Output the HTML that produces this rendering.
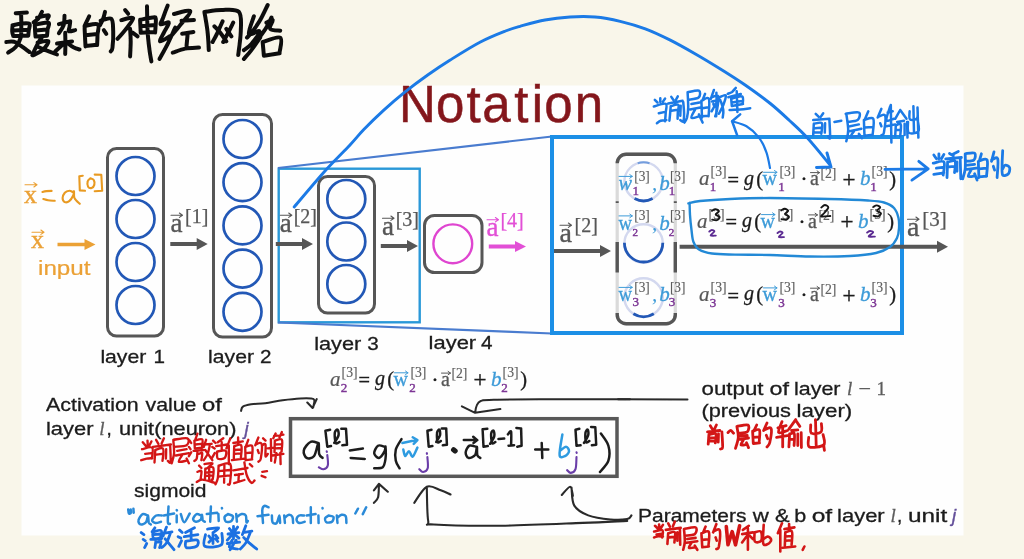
<!DOCTYPE html>
<html>
<head>
<meta charset="utf-8">
<title>Notation</title>
<style>
html,body{margin:0;padding:0;background:#f9f6ea;}
body{width:1024px;height:559px;overflow:hidden;position:relative;font-family:"Liberation Sans",sans-serif;}
svg{position:absolute;left:0;top:0;display:block;}
.sans{font-family:"Liberation Sans",sans-serif;}
.serif{font-family:"Liberation Serif",serif;}
.box{fill:none;stroke:#565656;stroke-width:3;}
.cb{fill:none;stroke:#2358b6;stroke-width:2.7;}
.hw{fill:none;stroke-linecap:round;stroke-linejoin:round;}
</style>
</head>
<body>
<svg width="1024" height="559" viewBox="0 0 1024 559">
<defs>
<filter id="soft" x="-5%" y="-5%" width="110%" height="110%"><feGaussianBlur stdDeviation="0.45"/></filter>
</defs>
<rect x="0" y="0" width="1024" height="559" fill="#f9f6ea"/>
<rect x="21.5" y="85.5" width="942" height="450" fill="#fefefe"/>
<g filter="url(#soft)">
<!-- title -->
<text class="sans" x="398.9 436 466.5 482.3 514.3 531.85 544.3 574.8" y="121.6" font-size="51" fill="#84191c" stroke="#84191c" stroke-width="0.5">Notation</text>
<!-- network -->
<rect class="box" x="107.5" y="148.5" width="56" height="187.5" rx="9"/>
<circle class="cb" cx="135.5" cy="176" r="19"/>
<circle class="cb" cx="135.5" cy="219" r="19"/>
<circle class="cb" cx="135.5" cy="262" r="19"/>
<circle class="cb" cx="135.5" cy="305" r="19"/>
<rect class="box" x="213.5" y="114.5" width="58" height="222.5" rx="9"/>
<circle class="cb" cx="242.5" cy="139" r="19"/>
<circle class="cb" cx="242.5" cy="182.2" r="19"/>
<circle class="cb" cx="242.5" cy="225.4" r="19"/>
<circle class="cb" cx="242.5" cy="268.6" r="19"/>
<circle class="cb" cx="242.5" cy="311.8" r="19"/>
<rect class="box" x="318.5" y="176.5" width="56" height="136.5" rx="9"/>
<circle class="cb" cx="346.3" cy="199" r="19"/>
<circle class="cb" cx="346.3" cy="241.5" r="19"/>
<circle class="cb" cx="346.3" cy="284" r="19"/>
<rect class="box" x="424.5" y="215.5" width="57.5" height="57" rx="10"/>
<circle cx="452.8" cy="243.8" r="19.4" fill="none" stroke="#df45d0" stroke-width="2.4"/>
<!-- rects -->
<rect x="278.7" y="168.7" width="141" height="153.6" fill="none" stroke="#2b98d8" stroke-width="2.4"/>
<line x1="278" y1="168" x2="552" y2="136.5" stroke="#4a7bcf" stroke-width="2.1"/>
<line x1="278" y1="322.5" x2="552" y2="333.5" stroke="#4a7bcf" stroke-width="2.1"/>
<rect x="552" y="137" width="350" height="196" fill="none" stroke="#1f8fe6" stroke-width="4"/>
<!-- labels -->
<text class="sans" x="100.4" y="362.5" font-size="19" fill="#1b1b1b" textLength="45.9" lengthAdjust="spacingAndGlyphs" stroke="#1b1b1b" stroke-width="0.3">layer</text>
<text class="sans" x="153.6" y="362.5" font-size="19" fill="#1b1b1b" textLength="11.5" lengthAdjust="spacingAndGlyphs" stroke="#1b1b1b" stroke-width="0.3">1</text>
<text class="sans" x="208.1" y="362.5" font-size="19" fill="#1b1b1b" textLength="45.9" lengthAdjust="spacingAndGlyphs" stroke="#1b1b1b" stroke-width="0.3">layer</text>
<text class="sans" x="260" y="362.5" font-size="19" fill="#1b1b1b" textLength="11.5" lengthAdjust="spacingAndGlyphs" stroke="#1b1b1b" stroke-width="0.3">2</text>
<text class="sans" x="314.2" y="349.5" font-size="19" fill="#1b1b1b" textLength="47.1" lengthAdjust="spacingAndGlyphs" stroke="#1b1b1b" stroke-width="0.3">layer</text>
<text class="sans" x="367.3" y="349.5" font-size="19" fill="#1b1b1b" textLength="11.5" lengthAdjust="spacingAndGlyphs" stroke="#1b1b1b" stroke-width="0.3">3</text>
<text class="sans" x="428.6" y="349" font-size="19" fill="#1b1b1b" textLength="47.6" lengthAdjust="spacingAndGlyphs" stroke="#1b1b1b" stroke-width="0.3">layer</text>
<text class="sans" x="481" y="349" font-size="19" fill="#1b1b1b" textLength="11.5" lengthAdjust="spacingAndGlyphs" stroke="#1b1b1b" stroke-width="0.3">4</text>
<!-- zoomed box -->
<rect x="617.2" y="154.2" width="58.09999999999991" height="169.60000000000002" rx="9" fill="none" stroke="#dadada" stroke-width="3.2"/>
<path d="M617.2 163V163.2a9 9 0 0 1 9 -9H666.3a9 9 0 0 1 9 9V163" fill="none" stroke="#575757" stroke-width="3.4"/>
<path d="M617.2 242V272.5M675.3 242V272.5" fill="none" stroke="#575757" stroke-width="3.4"/>
<path d="M617.2 313V314.8a9 9 0 0 0 9 9H666.3a9 9 0 0 0 9 -9V313" fill="none" stroke="#575757" stroke-width="3.4"/>
<path d="M617.2 201.3v1.6M675.3 201.3v1.6" fill="none" stroke="#575757" stroke-width="3"/>
<circle cx="643.6" cy="181.6" r="19.2" fill="none" stroke="#d3d8ef" stroke-width="2.4"/>
<path d="M652.6 198.6A19.2 19.2 0 0 1 634.6 198.6" fill="none" stroke="#2358b6" stroke-width="2.8"/>
<circle cx="643.6" cy="243.5" r="19.2" fill="none" stroke="#d3d8ef" stroke-width="2.4"/>
<path d="M662.8 242.8A19.2 19.2 0 1 1 624.4 242.8" fill="none" stroke="#2358b6" stroke-width="2.8"/>
<circle cx="643.6" cy="297.5" r="19.2" fill="none" stroke="#d3d8ef" stroke-width="2.4"/>
<path d="M653.8 313.8A19.2 19.2 0 0 1 633.4 313.8" fill="none" stroke="#2358b6" stroke-width="2.8"/>
<path d="M637.7 163.3A19.2 19.2 0 0 1 649.5 163.3" fill="none" stroke="#5b8fd8" stroke-width="2" opacity="0.8"/>
<!-- arrows -->
<path d="M57.5 242.7H84.5V239.0L95.5 244.5L84.5 250.0V246.3H57.5Z" fill="#eba136"/>
<path d="M170.3 242.0H196.7V238.0L207.7 244L196.7 250.0V246.0H170.3Z" fill="#575757"/>
<path d="M275.8 242.0H302V238.0L313 244L302 250.0V246.0H275.8Z" fill="#575757"/>
<path d="M380.8 244.0H407V240.0L418 246L407 252.0V248.0H380.8Z" fill="#575757"/>
<path d="M488.8 244.5H515V241.0L526 246.5L515 252.0V248.5H488.8Z" fill="#e24fd6"/>
<path d="M554 249.0H600V245.0L611 251L600 257.0V253.0H554Z" fill="#575757"/>
<path d="M679.6 244.7H937V240.7L948 246.7L937 252.7V248.7H679.6Z" fill="#575757"/>
<text class="serif" x="170.5" y="231.5" font-size="27" fill="#575757" stroke="#575757" stroke-width="0.35">a</text><text class="serif" x="185" y="222.5" font-size="20" fill="#575757" stroke="#575757" stroke-width="0.25">[1]</text><path d="M171.0 215.2H182.5M179.4 213.0L182.5 215.2L179.4 217.39999999999998" fill="none" stroke="#575757" stroke-width="1.1" stroke-linecap="round" stroke-linejoin="round"/>
<text class="serif" x="279.8" y="231.5" font-size="27" fill="#575757" stroke="#575757" stroke-width="0.35">a</text><text class="serif" x="293.7" y="222.5" font-size="20" fill="#575757" stroke="#575757" stroke-width="0.25">[2]</text><path d="M280.3 215.2H291.8M288.7 213.0L291.8 215.2L288.7 217.39999999999998" fill="none" stroke="#575757" stroke-width="1.1" stroke-linecap="round" stroke-linejoin="round"/>
<text class="serif" x="382" y="234.5" font-size="27" fill="#575757" stroke="#575757" stroke-width="0.35">a</text><text class="serif" x="395.7" y="225.5" font-size="20" fill="#575757" stroke="#575757" stroke-width="0.25">[3]</text><path d="M382.5 218.2H394M390.9 216.0L394 218.2L390.9 220.39999999999998" fill="none" stroke="#575757" stroke-width="1.1" stroke-linecap="round" stroke-linejoin="round"/>
<text class="serif" x="486.5" y="236" font-size="27" fill="#e24fd6" stroke="#e24fd6" stroke-width="0.35">a</text><text class="serif" x="500.4" y="227" font-size="20" fill="#e24fd6" stroke="#e24fd6" stroke-width="0.25">[4]</text><path d="M487.0 219.7H498.5M495.4 217.5L498.5 219.7L495.4 221.89999999999998" fill="none" stroke="#e24fd6" stroke-width="1.1" stroke-linecap="round" stroke-linejoin="round"/>
<text class="serif" x="559.5" y="241.5" font-size="28" fill="#575757" stroke="#575757" stroke-width="0.35">a</text><text class="serif" x="574.5" y="232.0" font-size="20" fill="#575757" stroke="#575757" stroke-width="0.25">[2]</text><path d="M560.0 225.2H571.5M568.4 223.0L571.5 225.2L568.4 227.39999999999998" fill="none" stroke="#575757" stroke-width="1.1" stroke-linecap="round" stroke-linejoin="round"/>
<text class="serif" x="907" y="235.5" font-size="28" fill="#575757" stroke="#575757" stroke-width="0.35">a</text><text class="serif" x="922.3" y="226.0" font-size="21" fill="#575757" stroke="#575757" stroke-width="0.25">[3]</text><path d="M907.5 219.2H919M915.9 217.0L919 219.2L915.9 221.39999999999998" fill="none" stroke="#575757" stroke-width="1.1" stroke-linecap="round" stroke-linejoin="round"/>
<text class="serif" x="24" y="202.6" font-size="26" fill="#eba136" stroke="#eba136" stroke-width="0.4">x</text><path d="M25 184.8H37M33.9 182.60000000000002L37 184.8L33.9 187.0" fill="none" stroke="#eba136" stroke-width="1.1" stroke-linecap="round" stroke-linejoin="round"/>
<text class="serif" x="31" y="248" font-size="26" fill="#eba136" stroke="#eba136" stroke-width="0.4">x</text><path d="M32 232.2H44M40.9 230.0L44 232.2L40.9 234.39999999999998" fill="none" stroke="#eba136" stroke-width="1.1" stroke-linecap="round" stroke-linejoin="round"/>
<text class="sans" x="38" y="275" font-size="19.5" fill="#eba136" textLength="52.5" lengthAdjust="spacingAndGlyphs" stroke="#eba136" stroke-width="0.2">input</text>
<!-- equations -->
<text class="serif" x="618.5" y="190" font-size="21" fill="#3d9bd8" font-style="italic" textLength="13.5" lengthAdjust="spacingAndGlyphs" stroke="#3d9bd8" stroke-width="0.3">w</text>
<path d="M619 176.4H632.3M629.8 174.6L632.3 176.4L629.8 178.20000000000002" fill="none" stroke="#3d9bd8" stroke-width="1.0" stroke-linecap="round" stroke-linejoin="round"/>
<text class="serif" x="632.6" y="195.3" font-size="13" fill="#7d3795" stroke="#7d3795" stroke-width="0.45">1</text>
<text class="serif" x="634.2" y="180.5" font-size="14.5" fill="#5e5e5e" textLength="15.6" lengthAdjust="spacingAndGlyphs" stroke="#5e5e5e" stroke-width="0.15">[3]</text>
<text class="serif" x="652" y="190" font-size="21" fill="#3d9bd8" font-style="italic">,</text>
<text class="serif" x="659.3" y="190" font-size="21" fill="#3d9bd8" font-style="italic" stroke="#3d9bd8" stroke-width="0.3">b</text>
<text class="serif" x="668.8" y="195.3" font-size="13" fill="#7d3795" stroke="#7d3795" stroke-width="0.45">1</text>
<text class="serif" x="669.9" y="180.5" font-size="14.5" fill="#5e5e5e" textLength="15.6" lengthAdjust="spacingAndGlyphs" stroke="#5e5e5e" stroke-width="0.15">[3]</text>
<text class="serif" x="618.5" y="229.5" font-size="20" fill="#3d9bd8" textLength="13.5" lengthAdjust="spacingAndGlyphs" stroke="#3d9bd8" stroke-width="0.3">w</text>
<path d="M619 215.9H632.3M629.8 214.1L632.3 215.9L629.8 217.70000000000002" fill="none" stroke="#3d9bd8" stroke-width="1.0" stroke-linecap="round" stroke-linejoin="round"/>
<text class="serif" x="632.6" y="235.5" font-size="11" fill="#7d3795" stroke="#7d3795" stroke-width="0.5">2</text>
<text class="serif" x="634.2" y="220.0" font-size="14.5" fill="#5e5e5e" textLength="15.6" lengthAdjust="spacingAndGlyphs" stroke="#5e5e5e" stroke-width="0.15">[3]</text>
<text class="serif" x="652" y="229.5" font-size="21" fill="#3d9bd8" font-style="italic">,</text>
<text class="serif" x="659.3" y="229.5" font-size="21" fill="#3d9bd8" font-style="italic" stroke="#3d9bd8" stroke-width="0.3">b</text>
<text class="serif" x="668.8" y="235.5" font-size="11" fill="#7d3795" stroke="#7d3795" stroke-width="0.5">2</text>
<text class="serif" x="669.9" y="220.0" font-size="14.5" fill="#5e5e5e" textLength="15.6" lengthAdjust="spacingAndGlyphs" stroke="#5e5e5e" stroke-width="0.15">[3]</text>
<text class="serif" x="618.5" y="301" font-size="21" fill="#3d9bd8" textLength="13.5" lengthAdjust="spacingAndGlyphs" stroke="#3d9bd8" stroke-width="0.3">w</text>
<path d="M619 287.4H632.3M629.8 285.59999999999997L632.3 287.4L629.8 289.2" fill="none" stroke="#3d9bd8" stroke-width="1.0" stroke-linecap="round" stroke-linejoin="round"/>
<text class="serif" x="632.6" y="306.3" font-size="13" fill="#7d3795" stroke="#7d3795" stroke-width="0.45">3</text>
<text class="serif" x="634.2" y="291.5" font-size="14.5" fill="#5e5e5e" textLength="15.6" lengthAdjust="spacingAndGlyphs" stroke="#5e5e5e" stroke-width="0.15">[3]</text>
<text class="serif" x="652" y="301" font-size="21" fill="#3d9bd8" font-style="italic">,</text>
<text class="serif" x="659.3" y="301" font-size="21" fill="#3d9bd8" font-style="italic" stroke="#3d9bd8" stroke-width="0.3">b</text>
<text class="serif" x="668.8" y="306.3" font-size="13" fill="#7d3795" stroke="#7d3795" stroke-width="0.45">3</text>
<text class="serif" x="669.9" y="291.5" font-size="14.5" fill="#5e5e5e" textLength="15.6" lengthAdjust="spacingAndGlyphs" stroke="#5e5e5e" stroke-width="0.15">[3]</text>
<text class="serif" x="699" y="185.3" font-size="21" fill="#575757" font-style="italic" stroke="#575757" stroke-width="0.2">a</text>
<text class="serif" x="709.8" y="191.0" font-size="13" fill="#7d3795" stroke="#7d3795" stroke-width="0.45">1</text>
<text class="serif" x="710.6" y="176.3" font-size="14.5" fill="#5e5e5e" textLength="16" lengthAdjust="spacingAndGlyphs" stroke="#5e5e5e" stroke-width="0.15">[3]</text>
<text class="serif" x="727.5" y="186.9" font-size="21" fill="#1b1b1b" textLength="11.5" lengthAdjust="spacingAndGlyphs" stroke="#1b1b1b" stroke-width="0.4">=</text>
<text class="serif" x="744" y="184.8" font-size="20" fill="#1b1b1b" font-style="italic" stroke="#1b1b1b" stroke-width="0.3">g</text>
<text class="serif" x="756.3" y="185.60000000000002" font-size="20.5" fill="#1b1b1b" stroke="#1b1b1b" stroke-width="0.3">(</text>
<text class="serif" x="762.6" y="185.3" font-size="20" fill="#3d9bd8" stroke="#3d9bd8" stroke-width="0.3">w</text>
<path d="M763.5 172.3H777M774.5 170.5L777 172.3L774.5 174.10000000000002" fill="none" stroke="#3d9bd8" stroke-width="1.0" stroke-linecap="round" stroke-linejoin="round"/>
<text class="serif" x="778.2" y="191.0" font-size="13" fill="#7d3795" stroke="#7d3795" stroke-width="0.45">1</text>
<text class="serif" x="779.4" y="176.3" font-size="14.5" fill="#5e5e5e" textLength="16" lengthAdjust="spacingAndGlyphs" stroke="#5e5e5e" stroke-width="0.15">[3]</text>
<text class="serif" x="800.5" y="186.3" font-size="21" fill="#1b1b1b" stroke="#1b1b1b" stroke-width="0.4">·</text>
<text class="serif" x="810" y="185.3" font-size="20" fill="#575757" stroke="#575757" stroke-width="0.3">a</text>
<path d="M810.5 172.60000000000002H819.5M817.1 170.90000000000003L819.5 172.60000000000002L817.1 174.3" fill="none" stroke="#575757" stroke-width="1.0" stroke-linecap="round" stroke-linejoin="round"/>
<text class="serif" x="820.4" y="177.9" font-size="14.5" fill="#5e5e5e" textLength="16" lengthAdjust="spacingAndGlyphs" stroke="#5e5e5e" stroke-width="0.15">[2]</text>
<text class="serif" x="842.5" y="186.9" font-size="23" fill="#1b1b1b" stroke="#1b1b1b" stroke-width="0.4">+</text>
<text class="serif" x="860" y="185.3" font-size="21" fill="#3d9bd8" font-style="italic" stroke="#3d9bd8" stroke-width="0.3">b</text>
<text class="serif" x="870.2" y="191.0" font-size="13" fill="#7d3795" stroke="#7d3795" stroke-width="0.45">1</text>
<text class="serif" x="871.6" y="176.3" font-size="14.5" fill="#5e5e5e" textLength="16" lengthAdjust="spacingAndGlyphs" stroke="#5e5e5e" stroke-width="0.15">[3]</text>
<text class="serif" x="889.3" y="185.60000000000002" font-size="20.5" fill="#1b1b1b" stroke="#1b1b1b" stroke-width="0.3">)</text>
<text class="serif" x="697" y="227.6" font-size="21" fill="#575757" font-style="italic" stroke="#575757" stroke-width="0.2">a</text>
<text class="serif" x="708.6" y="218.6" font-size="14.5" fill="#5e5e5e" textLength="16" lengthAdjust="spacingAndGlyphs" stroke="#5e5e5e" stroke-width="0.15">[3]</text>
<text class="serif" x="725.5" y="229.2" font-size="21" fill="#1b1b1b" textLength="11.5" lengthAdjust="spacingAndGlyphs" stroke="#1b1b1b" stroke-width="0.4">=</text>
<text class="serif" x="742" y="227.1" font-size="20" fill="#1b1b1b" font-style="italic" stroke="#1b1b1b" stroke-width="0.3">g</text>
<text class="serif" x="754.3" y="227.9" font-size="20.5" fill="#1b1b1b" stroke="#1b1b1b" stroke-width="0.3">(</text>
<text class="serif" x="760.6" y="227.6" font-size="20" fill="#3d9bd8" stroke="#3d9bd8" stroke-width="0.3">w</text>
<path d="M761.5 214.6H775M772.5 212.79999999999998L775 214.6L772.5 216.4" fill="none" stroke="#3d9bd8" stroke-width="1.0" stroke-linecap="round" stroke-linejoin="round"/>
<text class="serif" x="777.4" y="218.6" font-size="14.5" fill="#5e5e5e" textLength="16" lengthAdjust="spacingAndGlyphs" stroke="#5e5e5e" stroke-width="0.15">[3]</text>
<text class="serif" x="798.5" y="228.6" font-size="21" fill="#1b1b1b" stroke="#1b1b1b" stroke-width="0.4">·</text>
<text class="serif" x="808" y="227.6" font-size="20" fill="#575757" stroke="#575757" stroke-width="0.3">a</text>
<path d="M808.5 214.9H817.5M815.1 213.20000000000002L817.5 214.9L815.1 216.6" fill="none" stroke="#575757" stroke-width="1.0" stroke-linecap="round" stroke-linejoin="round"/>
<text class="serif" x="818.4" y="220.2" font-size="14.5" fill="#5e5e5e" textLength="16" lengthAdjust="spacingAndGlyphs" stroke="#5e5e5e" stroke-width="0.15">[2]</text>
<text class="serif" x="840.5" y="229.2" font-size="23" fill="#1b1b1b" stroke="#1b1b1b" stroke-width="0.4">+</text>
<text class="serif" x="858" y="227.6" font-size="21" fill="#3d9bd8" font-style="italic" stroke="#3d9bd8" stroke-width="0.3">b</text>
<text class="serif" x="869.6" y="218.6" font-size="14.5" fill="#5e5e5e" textLength="16" lengthAdjust="spacingAndGlyphs" stroke="#5e5e5e" stroke-width="0.15">[3]</text>
<text class="serif" x="887.3" y="227.9" font-size="20.5" fill="#1b1b1b" stroke="#1b1b1b" stroke-width="0.3">)</text>
<text class="serif" x="699" y="300.9" font-size="21" fill="#575757" font-style="italic" stroke="#575757" stroke-width="0.2">a</text>
<text class="serif" x="709.8" y="306.59999999999997" font-size="13" fill="#7d3795" stroke="#7d3795" stroke-width="0.45">3</text>
<text class="serif" x="710.6" y="291.9" font-size="14.5" fill="#5e5e5e" textLength="16" lengthAdjust="spacingAndGlyphs" stroke="#5e5e5e" stroke-width="0.15">[3]</text>
<text class="serif" x="727.5" y="302.5" font-size="21" fill="#1b1b1b" textLength="11.5" lengthAdjust="spacingAndGlyphs" stroke="#1b1b1b" stroke-width="0.4">=</text>
<text class="serif" x="744" y="300.4" font-size="20" fill="#1b1b1b" font-style="italic" stroke="#1b1b1b" stroke-width="0.3">g</text>
<text class="serif" x="756.3" y="301.2" font-size="20.5" fill="#1b1b1b" stroke="#1b1b1b" stroke-width="0.3">(</text>
<text class="serif" x="762.6" y="300.9" font-size="20" fill="#3d9bd8" stroke="#3d9bd8" stroke-width="0.3">w</text>
<path d="M763.5 287.9H777M774.5 286.09999999999997L777 287.9L774.5 289.7" fill="none" stroke="#3d9bd8" stroke-width="1.0" stroke-linecap="round" stroke-linejoin="round"/>
<text class="serif" x="778.2" y="306.59999999999997" font-size="13" fill="#7d3795" stroke="#7d3795" stroke-width="0.45">3</text>
<text class="serif" x="779.4" y="291.9" font-size="14.5" fill="#5e5e5e" textLength="16" lengthAdjust="spacingAndGlyphs" stroke="#5e5e5e" stroke-width="0.15">[3]</text>
<text class="serif" x="800.5" y="301.9" font-size="21" fill="#1b1b1b" stroke="#1b1b1b" stroke-width="0.4">·</text>
<text class="serif" x="810" y="300.9" font-size="20" fill="#575757" stroke="#575757" stroke-width="0.3">a</text>
<path d="M810.5 288.2H819.5M817.1 286.5L819.5 288.2L817.1 289.9" fill="none" stroke="#575757" stroke-width="1.0" stroke-linecap="round" stroke-linejoin="round"/>
<text class="serif" x="820.4" y="293.5" font-size="14.5" fill="#5e5e5e" textLength="16" lengthAdjust="spacingAndGlyphs" stroke="#5e5e5e" stroke-width="0.15">[2]</text>
<text class="serif" x="842.5" y="302.5" font-size="23" fill="#1b1b1b" stroke="#1b1b1b" stroke-width="0.4">+</text>
<text class="serif" x="860" y="300.9" font-size="21" fill="#3d9bd8" font-style="italic" stroke="#3d9bd8" stroke-width="0.3">b</text>
<text class="serif" x="870.2" y="306.59999999999997" font-size="13" fill="#7d3795" stroke="#7d3795" stroke-width="0.45">3</text>
<text class="serif" x="871.6" y="291.9" font-size="14.5" fill="#5e5e5e" textLength="16" lengthAdjust="spacingAndGlyphs" stroke="#5e5e5e" stroke-width="0.15">[3]</text>
<text class="serif" x="889.3" y="301.2" font-size="20.5" fill="#1b1b1b" stroke="#1b1b1b" stroke-width="0.3">)</text>
<text class="serif" x="330" y="385.8" font-size="21" fill="#575757" font-style="italic" stroke="#575757" stroke-width="0.2">a</text>
<text class="serif" x="340.79999999999995" y="391.5" font-size="13" fill="#7d3795" stroke="#7d3795" stroke-width="0.45">2</text>
<text class="serif" x="341.6" y="376.8" font-size="14.5" fill="#5e5e5e" textLength="16" lengthAdjust="spacingAndGlyphs" stroke="#5e5e5e" stroke-width="0.15">[3]</text>
<text class="serif" x="358.5" y="387.40000000000003" font-size="21" fill="#1b1b1b" textLength="11.5" lengthAdjust="spacingAndGlyphs" stroke="#1b1b1b" stroke-width="0.4">=</text>
<text class="serif" x="375" y="385.3" font-size="20" fill="#1b1b1b" font-style="italic" stroke="#1b1b1b" stroke-width="0.3">g</text>
<text class="serif" x="387.29999999999995" y="386.1" font-size="20.5" fill="#1b1b1b" stroke="#1b1b1b" stroke-width="0.3">(</text>
<text class="serif" x="393.6" y="385.8" font-size="20" fill="#3d9bd8" stroke="#3d9bd8" stroke-width="0.3">w</text>
<path d="M394.5 372.8H408M405.5 371.0L408 372.8L405.5 374.6" fill="none" stroke="#3d9bd8" stroke-width="1.0" stroke-linecap="round" stroke-linejoin="round"/>
<text class="serif" x="409.20000000000005" y="391.5" font-size="13" fill="#7d3795" stroke="#7d3795" stroke-width="0.45">2</text>
<text class="serif" x="410.4" y="376.8" font-size="14.5" fill="#5e5e5e" textLength="16" lengthAdjust="spacingAndGlyphs" stroke="#5e5e5e" stroke-width="0.15">[3]</text>
<text class="serif" x="431.5" y="386.8" font-size="21" fill="#1b1b1b" stroke="#1b1b1b" stroke-width="0.4">·</text>
<text class="serif" x="441" y="385.8" font-size="20" fill="#575757" stroke="#575757" stroke-width="0.3">a</text>
<path d="M441.5 373.1H450.5M448.1 371.40000000000003L450.5 373.1L448.1 374.8" fill="none" stroke="#575757" stroke-width="1.0" stroke-linecap="round" stroke-linejoin="round"/>
<text class="serif" x="451.4" y="378.40000000000003" font-size="14.5" fill="#5e5e5e" textLength="16" lengthAdjust="spacingAndGlyphs" stroke="#5e5e5e" stroke-width="0.15">[2]</text>
<text class="serif" x="473.5" y="387.40000000000003" font-size="23" fill="#1b1b1b" stroke="#1b1b1b" stroke-width="0.4">+</text>
<text class="serif" x="491" y="385.8" font-size="21" fill="#3d9bd8" font-style="italic" stroke="#3d9bd8" stroke-width="0.3">b</text>
<text class="serif" x="501.20000000000005" y="391.5" font-size="13" fill="#7d3795" stroke="#7d3795" stroke-width="0.45">2</text>
<text class="serif" x="502.6" y="376.8" font-size="14.5" fill="#5e5e5e" textLength="16" lengthAdjust="spacingAndGlyphs" stroke="#5e5e5e" stroke-width="0.15">[3]</text>
<text class="serif" x="520.3" y="386.1" font-size="20.5" fill="#1b1b1b" stroke="#1b1b1b" stroke-width="0.3">)</text>
<!-- bottom -->
<text class="sans" x="46.0" y="411" font-size="19" fill="#1b1b1b" textLength="92.7" lengthAdjust="spacingAndGlyphs" stroke="#1b1b1b" stroke-width="0.3">Activation</text>
<text class="sans" x="145.5" y="411" font-size="19" fill="#1b1b1b" textLength="50.9" lengthAdjust="spacingAndGlyphs" stroke="#1b1b1b" stroke-width="0.3">value</text>
<text class="sans" x="201.9" y="411" font-size="19" fill="#1b1b1b" textLength="19.9" lengthAdjust="spacingAndGlyphs" stroke="#1b1b1b" stroke-width="0.3">of</text>
<text class="sans" x="46.0" y="434.5" font-size="19" fill="#1b1b1b" textLength="47.5" lengthAdjust="spacingAndGlyphs" stroke="#1b1b1b" stroke-width="0.3">layer</text>
<text class="serif" x="99.3" y="434.5" font-size="19" fill="#5c5c5c" font-style="italic" stroke="#5c5c5c" stroke-width="0.3">l</text>
<text class="sans" x="106.5" y="434.5" font-size="19" fill="#1b1b1b" stroke="#1b1b1b" stroke-width="0.3">,</text>
<text class="sans" x="119.0" y="434.5" font-size="19" fill="#1b1b1b" textLength="117.5" lengthAdjust="spacingAndGlyphs" stroke="#1b1b1b" stroke-width="0.3">unit(neuron)</text>
<text class="sans" x="244.5" y="434.5" font-size="18.5" fill="#64509a" font-style="italic" stroke="#64509a" stroke-width="0.4">j</text>
<text class="sans" x="134.0" y="497" font-size="19" fill="#1b1b1b" textLength="72.5" lengthAdjust="spacingAndGlyphs" stroke="#1b1b1b" stroke-width="0.3">sigmoid</text>
<text class="sans" x="701.5" y="394.8" font-size="19" fill="#1b1b1b" textLength="62.0" lengthAdjust="spacingAndGlyphs" stroke="#1b1b1b" stroke-width="0.3">output</text>
<text class="sans" x="769.5" y="394.8" font-size="19" fill="#1b1b1b" textLength="19.5" lengthAdjust="spacingAndGlyphs" stroke="#1b1b1b" stroke-width="0.3">of</text>
<text class="sans" x="794.0" y="394.8" font-size="19" fill="#1b1b1b" textLength="46.5" lengthAdjust="spacingAndGlyphs" stroke="#1b1b1b" stroke-width="0.3">layer</text>
<text class="serif" x="847" y="394.8" font-size="19" fill="#5c5c5c" font-style="italic" stroke="#5c5c5c" stroke-width="0.3">l</text>
<text class="serif" x="858.5" y="394.8" font-size="19" fill="#5c5c5c" textLength="12.5" lengthAdjust="spacingAndGlyphs" stroke="#5c5c5c" stroke-width="0.3">−</text>
<text class="serif" x="876.5" y="394.8" font-size="19" fill="#5c5c5c" stroke="#5c5c5c" stroke-width="0.3">1</text>
<text class="sans" x="701.5" y="417.3" font-size="19" fill="#1b1b1b" textLength="89.5" lengthAdjust="spacingAndGlyphs" stroke="#1b1b1b" stroke-width="0.3">(previous</text>
<text class="sans" x="796.5" y="417.3" font-size="19" fill="#1b1b1b" textLength="55.8" lengthAdjust="spacingAndGlyphs" stroke="#1b1b1b" stroke-width="0.3">layer)</text>
<text class="sans" x="638.0" y="521.7" font-size="19" fill="#1b1b1b" textLength="108.4" lengthAdjust="spacingAndGlyphs" stroke="#1b1b1b" stroke-width="0.3">Parameters</text>
<text class="sans" x="752.7" y="521.7" font-size="19" fill="#1b1b1b" textLength="16.1" lengthAdjust="spacingAndGlyphs" stroke="#1b1b1b" stroke-width="0.3">w</text>
<text class="sans" x="775.0" y="521.7" font-size="19" fill="#1b1b1b" textLength="14.6" lengthAdjust="spacingAndGlyphs" stroke="#1b1b1b" stroke-width="0.3">&amp;</text>
<text class="sans" x="794.2" y="521.7" font-size="19" fill="#1b1b1b" textLength="12.0" lengthAdjust="spacingAndGlyphs" stroke="#1b1b1b" stroke-width="0.3">b</text>
<text class="sans" x="811.7" y="521.7" font-size="19" fill="#1b1b1b" textLength="20.5" lengthAdjust="spacingAndGlyphs" stroke="#1b1b1b" stroke-width="0.3">of</text>
<text class="sans" x="837.0" y="521.7" font-size="19" fill="#1b1b1b" textLength="47.7" lengthAdjust="spacingAndGlyphs" stroke="#1b1b1b" stroke-width="0.3">layer</text>
<text class="serif" x="890.5" y="521.7" font-size="19" fill="#5c5c5c" font-style="italic" stroke="#5c5c5c" stroke-width="0.3">l</text>
<text class="sans" x="897" y="521.7" font-size="19" fill="#1b1b1b" stroke="#1b1b1b" stroke-width="0.3">,</text>
<text class="sans" x="908.0" y="521.7" font-size="19" fill="#1b1b1b" textLength="39.3" lengthAdjust="spacingAndGlyphs" stroke="#1b1b1b" stroke-width="0.3">unit</text>
<text class="sans" x="952" y="521.7" font-size="18.5" fill="#64509a" font-style="italic" stroke="#64509a" stroke-width="0.4">j</text>
<rect x="290.5" y="418.7" width="326.5" height="57.6" fill="none" stroke="#585858" stroke-width="3.5"/>
<!-- handwriting -->
<path class="hw" d="M15.7 13.2L26.9 12.5M12.5 25.7C12.5 26.6 12.1 29.7 12.2 31.3C12.3 33.0 13.0 35.0 13.2 35.7M12.5 25.3C14.0 25.0 18.5 23.8 21.3 23.6C24.1 23.3 28.2 22.7 29.4 23.8C30.7 24.9 29.0 28.1 28.8 30.1C28.6 32.1 28.3 34.8 28.2 35.7M13.2 30.5L28.2 29.8M13.2 36.0L28.2 35.5M21.1 13.2C21.1 15.1 21.4 21.0 21.3 25.1C21.2 29.1 21.6 33.9 20.7 37.6C19.7 41.2 17.8 44.5 15.7 47.0C13.6 49.5 9.4 51.7 8.1 52.6M6.3 42.0C7.5 41.9 11.4 41.1 13.8 41.7C16.2 42.4 18.1 44.0 20.7 45.7C23.3 47.5 28.0 51.0 29.4 52.0M42.0 11.9C41.4 13.1 39.6 17.1 38.2 18.8C36.8 20.5 34.4 21.7 33.6 22.3M37.0 17.8C38.8 17.4 46.5 15.1 48.2 15.3C50.0 15.5 47.5 18.2 47.4 18.8M34.8 25.1C34.9 26.1 35.0 29.4 35.1 31.3C35.2 33.2 35.4 35.7 35.5 36.6M34.8 24.8C37.1 24.4 46.1 21.8 48.2 22.6C50.4 23.3 47.8 27.3 47.6 29.4C47.4 31.6 47.1 34.7 47.0 35.7M35.5 30.5L47.0 29.4M35.5 36.6L47.0 35.7M42.0 37.0C41.1 38.3 38.6 42.1 37.0 45.1C35.4 48.1 33.1 53.5 32.3 55.1M37.6 42.6C39.4 42.4 47.3 40.0 48.2 41.1C49.2 42.3 45.6 47.2 43.2 49.5C40.8 51.8 35.4 54.2 33.8 55.1M38.2 47.0C40.0 47.7 45.7 50.1 48.9 51.4C52.0 52.6 55.7 54.0 57.0 54.5M58.9 24.1L70.2 21.3M64.5 15.7C64.4 17.2 64.6 22.1 63.7 25.1C62.7 28.0 59.7 31.9 58.9 33.2M70.2 21.3C70.1 22.2 69.8 25.3 69.5 26.9C69.3 28.6 68.0 30.8 68.9 31.3C69.9 31.9 74.1 30.3 75.2 30.1M57.0 43.6L72.1 41.4M65.2 32.8C65.2 34.7 65.4 40.4 65.4 43.9C65.4 47.4 65.2 52.2 65.2 53.9M63.3 43.9L55.1 51.4M67.7 43.2C68.7 44.0 72.0 46.6 73.9 47.6C75.9 48.7 78.6 49.2 79.6 49.5M89.2 16.3C88.8 17.2 87.2 20.5 86.5 21.9C85.8 23.4 85.2 24.5 85.0 25.1M84.6 25.7C84.6 27.5 84.8 32.9 85.0 36.3C85.1 39.8 85.4 44.7 85.5 46.4M85.0 25.9C87.1 25.7 95.7 22.9 97.7 24.4C99.8 26.0 97.6 31.6 97.5 35.1C97.4 38.5 97.2 43.4 97.1 45.1M85.6 35.3L97.1 34.1M85.5 46.1L97.1 44.7" stroke="#111111" stroke-width="4.0"/>
<path class="hw" d="M105.0 11.9C104.7 13.1 104.0 16.6 103.1 18.8C102.3 21.0 100.5 24.0 100.0 25.1M100.6 20.7C102.4 20.4 109.2 17.0 111.3 18.8C113.4 20.6 112.9 26.5 113.2 31.3C113.4 36.1 112.9 44.3 112.5 47.6C112.1 51.0 111.0 50.8 110.7 51.4M103.8 30.1L106.3 33.8M125.1 10.0L128.2 13.8M121.3 20.1C123.3 19.7 132.6 16.5 133.2 18.2C133.8 19.8 127.7 26.6 125.1 30.1C122.5 33.5 118.8 37.4 117.5 38.8M130.1 28.8C130.2 30.9 130.7 36.8 130.7 41.4C130.7 45.9 130.2 53.9 130.1 56.4M132.6 32.6L137.6 36.3M140.1 20.1L140.7 32.6M140.1 19.8C142.2 19.4 150.0 17.7 152.6 17.5C155.2 17.4 155.3 16.3 155.8 18.8C156.2 21.3 155.2 30.3 155.1 32.6M140.7 26.3L155.1 25.1M140.7 32.8L155.1 32.0M147.0 6.3C147.1 10.4 147.2 24.0 147.6 31.3C148.0 38.6 148.9 45.1 149.5 50.1C150.1 55.1 151.1 59.5 151.4 61.4M167.7 5.6C166.8 7.8 163.8 15.7 162.7 18.8C161.5 21.9 159.7 23.8 160.8 24.4C161.8 25.1 168.4 21.2 168.9 22.6C169.4 23.9 165.4 29.4 163.9 32.6C162.4 35.7 159.1 40.8 160.2 41.4C161.2 41.9 168.5 37.0 170.2 36.1M175.2 27.6C173.9 30.3 170.3 38.6 167.7 43.9C165.1 49.1 160.9 56.4 159.5 58.9M173.9 14.0C176.6 13.5 189.2 9.2 190.2 11.0C191.3 12.9 183.4 20.8 180.2 25.1C177.0 29.3 172.4 34.5 170.8 36.3M181.5 20.7L194.0 20.1M182.1 33.8L193.4 32.0M187.7 33.2L186.5 46.4M172.7 52.6C174.8 52.0 180.8 49.5 185.2 48.6C189.6 47.8 196.7 47.8 199.0 47.6" stroke="#111111" stroke-width="4.0"/>
<path class="hw" d="M204.4 11.9C204.9 15.1 206.8 25.0 207.5 31.3C208.3 37.7 208.6 47.0 208.8 50.1M204.4 11.9C207.2 11.6 215.6 10.0 221.3 10.0C227.1 10.0 235.6 8.4 238.9 11.9C242.1 15.5 240.9 24.1 240.8 31.3C240.6 38.5 238.7 51.2 238.2 55.1M214.4 26.3C215.4 27.4 218.1 30.1 220.1 32.6C222.1 35.1 225.3 39.9 226.3 41.4M222.6 21.3C221.6 23.4 218.6 30.4 216.9 33.8C215.3 37.3 213.3 40.6 212.6 42.0M226.3 28.8L231.4 36.3M233.2 22.6C232.3 24.4 229.3 30.6 227.6 33.8C225.9 37.1 223.9 40.6 223.2 42.0M267.7 5.0C266.4 7.5 262.7 15.7 260.2 20.1C257.7 24.4 254.8 28.4 252.7 31.3C250.5 34.3 248.0 36.5 247.0 37.6M253.9 16.3C253.1 19.2 248.0 31.3 248.9 33.8C249.8 36.3 259.1 29.7 259.5 31.3C260.0 33.0 254.0 40.7 251.4 43.9C248.8 47.0 245.1 49.1 243.9 50.1M260.2 37.6C258.7 39.7 254.1 46.6 251.4 50.1C248.7 53.7 245.1 57.4 243.9 58.9M271.5 17.5C270.6 19.2 268.3 24.4 266.4 27.6C264.6 30.7 261.2 34.9 260.2 36.3M266.4 22.6C267.5 22.1 272.1 19.0 272.7 20.1C273.3 21.1 268.9 27.0 270.2 28.8C271.5 30.6 278.6 30.4 280.2 30.7M262.7 42.6L263.9 55.8M262.7 42.0C265.6 41.2 277.4 35.8 280.2 37.6C283.0 39.4 279.7 50.1 279.6 52.6M263.9 55.8L279.6 53.3" stroke="#111111" stroke-width="4.0"/>
<path class="hw" d="M294.2 207.0C299.3 201.0 315.7 181.3 325.0 171.0C334.3 160.7 343.5 151.9 350.0 145.0C356.5 138.1 358.2 135.3 363.8 129.5C369.4 123.7 376.9 116.4 383.8 110.1C390.7 103.8 397.8 97.8 405.1 91.9C412.4 86.1 420.2 80.3 427.7 75.0C435.2 69.7 441.4 65.5 450.2 60.0C459.0 54.5 471.2 46.8 480.4 42.0C489.6 37.2 498.9 33.6 505.5 31.0C512.1 28.4 513.4 28.1 520.0 26.3C526.6 24.5 536.7 21.6 545.0 20.0C553.3 18.4 561.7 17.5 570.0 17.0C578.3 16.5 586.6 16.3 595.0 17.0C603.4 17.7 611.8 19.3 620.2 21.3C628.6 23.3 636.9 25.7 645.3 28.8C653.6 31.9 661.9 35.9 670.3 40.1C678.6 44.3 687.0 49.1 695.4 53.9C703.8 58.7 712.0 63.7 720.4 68.9C728.8 74.1 737.2 79.4 745.5 85.2C753.8 91.0 763.1 97.7 770.3 103.5C777.5 109.3 782.7 114.2 788.9 120.0C795.1 125.8 800.8 130.7 807.7 138.3C814.6 145.9 826.7 161.0 830.5 165.5M827.0 153.0L831.0 167.0L816.5 167.5" stroke="#1a7ae6" stroke-width="2.9"/>
<path class="hw" d="M654.8 99.8L657.5 102.5M660.3 98.2L660.3 101.9M665.1 98.5L662.8 101.9M653.8 106.5C655.8 106.1 663.7 102.8 665.7 103.8C667.7 104.8 665.8 109.6 665.7 112.6C665.6 115.5 665.2 119.9 665.1 121.3M658.8 113.2L665.1 111.9M656.9 123.2C657.5 122.8 659.1 121.2 660.7 120.7C662.2 120.2 665.4 120.2 666.3 120.1M671.3 96.9L673.6 100.3M677.8 96.3L675.8 100.0M668.2 103.5L682.6 100.7M670.7 106.3C670.6 107.5 670.3 111.4 670.1 113.8C669.9 116.2 669.5 119.5 669.4 120.7M670.7 106.3C671.9 106.0 677.0 103.7 678.2 104.8C679.4 105.8 677.9 110.2 677.8 112.6C677.7 114.9 677.6 117.8 677.6 118.8M671.3 110.7L677.6 109.8M680.7 105.7L680.3 115.7M683.2 101.9C683.4 103.9 684.1 110.6 684.1 113.8C684.1 117.0 683.8 120.3 683.2 121.3C682.6 122.4 680.8 120.3 680.3 120.1M687.6 92.3C689.5 92.0 697.0 89.8 698.9 90.6C700.7 91.5 700.4 96.0 698.6 97.5C696.8 99.0 690.0 99.4 688.2 99.8M687.6 92.3C687.7 94.8 688.3 103.3 688.2 107.5C688.1 111.8 687.6 115.1 687.0 117.6C686.3 120.1 684.9 121.7 684.5 122.6M691.4 104.0L699.5 102.5M690.1 109.4L701.6 107.3M695.1 109.4C694.5 110.8 690.7 116.7 691.4 117.8C692.0 119.0 697.6 116.6 698.9 116.3M698.9 114.4L702.6 122.6M705.1 93.8L702.6 100.0M701.4 100.7L702.0 117.6M702.0 100.7C703.1 100.3 707.8 96.2 708.9 98.8C710.0 101.4 708.7 113.4 708.6 116.3M702.4 108.2L708.3 107.3M702.4 116.3L708.6 115.7M713.9 90.0L710.8 98.8M711.4 97.5C712.5 97.3 717.3 94.2 718.3 96.3C719.2 98.4 717.6 106.7 717.0 110.1C716.5 113.4 715.5 115.3 715.2 116.3M713.3 103.8L714.5 106.9M712.0 101.5L720.2 99.8M716.4 92.8C716.4 94.8 716.7 101.1 716.7 105.0C716.6 109.0 716.2 114.4 716.2 116.3M716.2 103.2L711.6 111.3M720.2 96.9C721.1 96.7 725.3 94.3 725.8 95.6C726.3 97.0 724.4 102.0 723.3 105.0C722.1 108.1 719.6 112.3 718.9 113.8M720.8 101.3C721.2 102.7 723.0 107.3 723.3 110.1C723.6 112.8 722.8 116.3 722.7 117.6M735.8 87.8C735.2 88.4 733.4 90.9 732.1 91.9C730.7 92.9 728.4 93.5 727.7 93.8M728.3 97.3L740.8 94.0M731.2 99.0L731.8 106.0M731.2 98.8C733.0 98.4 740.2 95.6 742.1 96.5C744.0 97.4 742.6 102.8 742.7 104.0M731.8 102.5L742.1 101.0M731.8 106.0L743.0 104.0M736.7 91.3C736.8 92.9 736.9 97.8 737.1 101.3C737.2 104.7 737.4 110.2 737.4 111.9M729.6 110.1C731.3 109.9 736.8 109.7 740.2 109.4C743.6 109.1 748.6 108.4 750.2 108.2M740.2 114.4L732.1 121.3L737.1 135.1" stroke="#1a7ae6" stroke-width="2.5"/>
<path class="hw" d="M732.0 121.3C734.4 122.1 742.0 123.6 746.5 126.3C751.0 129.0 755.7 133.2 759.0 137.6C762.3 142.0 764.7 147.5 766.5 152.6C768.3 157.7 769.4 165.4 770.0 168.0" stroke="#1a7ae6" stroke-width="2.2"/>
<path class="hw" d="M815.7 113.8L818.8 116.9M823.2 113.2L820.7 116.9M813.2 120.1L829.4 118.8M813.8 123.8L813.2 135.1M814.0 123.8C815.3 123.7 820.7 121.5 821.9 123.2C823.1 124.9 821.4 132.1 821.3 133.8M815.0 128.2L820.7 127.8M815.0 132.6L821.0 132.3M825.1 123.2L824.8 132.6M829.4 119.4C829.5 122.5 830.3 134.8 830.1 137.6C829.9 140.4 828.5 136.5 828.2 136.3M834.4 121.9L841.3 120.7M845.7 113.8C847.9 113.6 856.9 111.5 858.9 112.5C860.9 113.6 859.5 118.5 857.6 120.1C855.7 121.6 849.3 121.6 847.6 121.9M846.3 113.8C846.7 116.5 848.2 125.5 848.2 130.1C848.2 134.7 846.7 139.5 846.3 141.3M850.1 126.3L858.9 124.4M849.5 131.3L861.4 128.8M853.9 131.3C853.3 132.3 849.9 136.2 850.7 137.0C851.6 137.7 857.5 135.9 858.9 135.7M858.9 133.8L862.0 138.2M868.3 111.3L865.1 118.8M863.9 120.1L864.5 136.3M864.1 120.1C865.7 119.8 871.9 116.3 873.3 118.8C874.7 121.3 872.7 132.4 872.6 135.1M864.9 127.6L872.6 126.9M864.9 135.7L872.6 134.8M881.4 108.8L877.7 117.5M878.3 116.9C879.4 116.7 884.2 113.1 885.2 115.7C886.1 118.3 884.5 129.3 883.9 132.6C883.3 135.8 881.8 134.7 881.4 135.1M880.2 123.2L881.4 126.3M887.7 112.5L892.7 111.3M890.2 106.3C889.6 108.6 885.8 118.0 886.4 120.1C887.0 122.1 892.7 119.0 893.9 118.8M890.8 105.0L891.4 142.6M886.4 126.3L895.2 124.4M900.2 110.0L895.2 118.8M900.2 110.0L906.5 118.8M897.1 121.9L904.0 120.7M895.8 125.1L895.2 136.3M896.4 125.1C897.2 125.0 900.2 122.6 900.8 124.4C901.5 126.3 900.3 134.3 900.2 136.3M897.1 130.1L900.2 129.8M904.6 123.8L904.6 135.1M907.1 121.9L907.5 137.6M913.4 106.3L914.0 132.6M909.6 111.3C909.7 112.6 908.7 118.3 910.0 119.4C911.2 120.6 915.9 120.2 917.1 118.2C918.4 116.2 917.4 109.3 917.5 107.5M908.0 121.9C908.1 123.7 907.0 131.0 908.7 132.6C910.5 134.1 916.9 133.4 918.4 131.3C919.9 129.2 917.8 121.9 917.7 120.1M917.5 107.5L918.4 137.6" stroke="#1a7ae6" stroke-width="2.5"/>
<path class="hw" d="M885.0 169.4L928.2 168.8M918.8 161.3L928.2 168.8L911.9 180.1M933.8 155.0L936.4 158.8M938.9 153.8L938.9 158.8M943.9 154.4L941.4 158.8M933.2 163.2C935.0 163.0 942.2 159.9 943.9 161.9C945.5 163.9 943.3 172.9 943.2 175.1M936.4 168.2L942.6 167.3M933.8 174.4L943.9 172.8M949.5 153.5L953.3 155.7M958.3 151.5L953.3 154.0M945.7 158.8L961.4 157.5M947.6 161.9L947.0 177.6M948.3 161.9C949.4 161.8 954.1 159.5 955.1 161.3C956.2 163.1 954.6 170.7 954.5 172.6M948.9 166.9L954.5 166.3M957.0 161.9L957.0 171.3M960.2 158.2L960.8 178.8M965.2 153.8C966.7 153.7 973.1 152.1 974.6 153.2C976.0 154.2 975.4 158.7 973.9 160.0C972.5 161.4 967.1 161.1 965.8 161.3M965.2 153.8C965.2 156.3 965.6 164.6 965.2 168.8C964.7 173.0 963.1 177.2 962.7 178.8M967.7 165.1L974.6 164.4M967.0 169.4L976.4 168.2M971.4 169.4C970.9 170.6 967.7 175.3 968.3 176.3C968.9 177.4 974.0 175.8 975.2 175.7M974.6 173.8L977.1 180.1M981.4 153.8L979.6 160.0M978.3 161.3L978.9 177.6M978.7 161.3C980.1 161.1 985.8 157.5 987.1 160.0C988.4 162.5 986.6 173.6 986.5 176.3M979.2 168.8L986.5 168.2M979.2 176.9L986.7 176.1M994.0 151.9L991.5 161.3M991.5 160.0C992.5 159.8 996.8 155.9 997.7 158.8C998.7 161.7 997.2 174.4 997.1 177.6M993.3 166.3L994.6 170.1M1002.7 150.6C1002.6 153.0 1002.1 161.0 1002.1 165.1C1002.1 169.1 1001.7 173.6 1002.7 175.1C1003.8 176.5 1007.2 175.1 1008.4 173.8C1009.5 172.6 1010.1 169.0 1009.6 167.6C1009.1 166.1 1006.4 164.8 1005.2 165.1C1004.1 165.3 1003.2 168.2 1002.7 168.8" stroke="#1a7ae6" stroke-width="2.8"/>
<path class="hw" d="M688.4 203.4C690.3 203.0 693.1 201.7 700.0 201.0C706.9 200.3 718.3 199.5 730.0 199.0C741.7 198.5 753.5 198.0 770.0 198.0C786.5 198.0 812.7 198.6 829.0 199.0C845.3 199.4 858.8 199.9 868.0 200.5C877.2 201.1 879.7 201.2 884.0 202.5C888.3 203.8 891.6 205.4 894.0 208.0C896.4 210.6 897.7 214.6 898.5 218.0C899.3 221.4 899.2 225.1 899.0 228.4C898.8 231.7 898.5 234.9 897.0 238.0C895.5 241.1 893.5 244.5 890.0 247.0C886.5 249.5 882.7 251.5 876.0 253.0C869.3 254.5 861.0 255.4 850.0 256.0C839.0 256.6 823.3 256.7 810.0 256.5C796.7 256.3 782.5 255.3 770.0 255.0C757.5 254.7 744.7 254.8 735.0 254.6C725.3 254.3 718.0 254.3 712.0 253.5C706.0 252.7 702.1 251.4 699.0 249.5C695.9 247.6 694.8 245.2 693.5 242.0C692.2 238.8 692.1 234.5 691.5 230.0C690.9 225.5 690.3 219.5 690.0 215.0C689.7 210.5 689.7 205.0 689.6 203.0" stroke="#2489d6" stroke-width="2.4"/>
<path class="hw" d="M711.9 210.8C712.5 210.5 714.2 209.1 715.4 209.2C716.6 209.3 718.9 210.3 718.9 211.2C718.9 212.1 715.6 213.6 715.7 214.6C715.8 215.6 719.5 216.1 719.7 217.0C719.9 217.9 718.1 219.8 716.9 220.2C715.6 220.6 713.0 219.7 712.2 219.6" stroke="#161616" stroke-width="1.9"/>
<path class="hw" d="M781.2 210.4C781.8 210.1 783.5 208.7 784.7 208.8C785.9 208.9 788.2 209.9 788.2 210.8C788.2 211.7 784.9 213.2 785.0 214.2C785.1 215.2 788.8 215.7 789.0 216.6C789.2 217.5 787.5 219.4 786.2 219.8C785.0 220.2 782.3 219.3 781.5 219.2" stroke="#161616" stroke-width="1.9"/>
<path class="hw" d="M873.2 207.0C873.8 206.7 875.5 205.3 876.7 205.4C877.9 205.5 880.2 206.5 880.2 207.4C880.2 208.3 876.9 209.8 877.0 210.8C877.1 211.8 880.8 212.3 881.0 213.2C881.2 214.1 879.5 216.0 878.2 216.4C877.0 216.8 874.3 215.9 873.5 215.8" stroke="#161616" stroke-width="1.9"/>
<path class="hw" d="M821.3 207.5C821.9 207.1 823.6 205.0 824.8 205.0C826.0 205.0 828.5 206.1 828.3 207.5C828.1 208.9 825.0 212.0 823.8 213.5C822.6 215.0 820.2 216.1 821.3 216.5C822.4 216.9 828.8 216.1 830.3 216.0" stroke="#161616" stroke-width="1.9"/>
<path class="hw" d="M709.3 231.6C709.7 231.3 710.9 230.0 711.8 230.0C712.6 230.0 714.6 230.5 714.4 231.4C714.2 232.3 710.4 234.7 710.6 235.4C710.8 236.1 714.9 235.6 715.8 235.6" stroke="#5b2c92" stroke-width="1.9"/>
<path class="hw" d="M777.5 233.1C777.9 232.8 779.1 231.5 780.0 231.5C780.9 231.5 782.8 232.0 782.6 232.9C782.4 233.8 778.6 236.2 778.8 236.9C779.0 237.6 783.1 237.1 784.0 237.1" stroke="#5b2c92" stroke-width="1.9"/>
<path class="hw" d="M867.1 232.6C867.6 232.3 869.1 231.0 870.1 231.0C871.1 231.0 873.5 231.5 873.2 232.4C873.0 233.3 868.4 235.7 868.7 236.4C868.9 237.1 873.9 236.6 874.9 236.6" stroke="#5b2c92" stroke-width="1.9"/>
<path class="hw" d="M42.4 192.0C43.1 191.8 44.8 191.3 46.4 191.1C47.9 190.9 50.8 190.9 51.6 190.9M43.3 199.0C44.1 199.2 46.2 200.0 48.1 200.3C50.0 200.6 53.6 200.7 54.7 200.8M72.7 192.0C72.1 191.7 70.5 190.5 69.2 190.7C67.9 190.8 65.9 191.6 64.8 192.8C63.7 194.1 62.6 196.6 62.6 198.1C62.6 199.7 63.7 201.6 64.8 202.1C65.9 202.6 67.8 202.3 69.2 201.2C70.6 200.1 72.4 197.2 73.2 195.5C74.0 193.8 73.8 190.7 74.0 191.1C74.3 191.5 73.5 196.0 74.5 198.1C75.4 200.2 78.9 202.9 79.8 203.8M82.8 175.7L79.3 176.2L79.8 190.4L85.0 190.8M90.3 178.3C89.9 178.9 88.0 180.0 87.7 181.4C87.3 182.8 87.4 185.6 88.1 186.7C88.8 187.8 90.6 188.3 91.6 188.0C92.6 187.7 93.9 186.3 94.3 184.9C94.6 183.6 94.5 181.2 93.8 180.1C93.2 179.0 90.9 178.6 90.3 178.3M94.7 174.6L101.3 174.8L102.2 190.8L94.7 191.3" stroke="#e89a22" stroke-width="2.1"/>
<path class="hw" d="M142.8 442.2L145.9 446.1M147.5 440.6L147.8 446.1M151.4 441.4L149.1 446.1M142.0 449.2C143.7 449.0 150.5 446.1 152.2 447.7C153.8 449.2 151.9 456.8 151.9 458.6M145.2 453.9L151.4 453.1M141.2 460.2C142.2 459.9 144.9 458.9 146.7 458.6C148.5 458.3 151.3 458.2 152.2 458.1M156.1 439.8L158.4 443.8M163.9 438.3L161.6 443.4M153.0 446.9L170.9 444.5M155.3 450.0L154.5 462.5M155.3 450.0C156.6 449.8 161.9 446.9 163.1 448.8C164.3 450.6 162.6 458.9 162.5 460.9M156.1 454.7L162.3 453.9M166.2 449.2L165.9 458.6M170.2 445.3C170.2 448.0 171.0 459.1 170.6 461.7C170.2 464.3 168.3 461.1 167.8 460.9M173.3 439.8C175.6 439.6 185.1 437.4 187.3 438.3C189.6 439.2 188.8 443.9 186.6 445.3C184.3 446.7 176.1 446.6 174.1 446.9M173.3 439.8C173.4 442.1 174.3 449.2 174.1 453.1C173.8 457.0 172.1 461.6 171.7 463.3M177.2 450.8L186.6 449.2M175.9 455.5L188.9 453.1M181.9 455.5C181.4 456.5 178.0 460.9 178.8 461.7C179.5 462.6 185.3 460.8 186.6 460.6M186.6 458.6L188.9 463.3M189.7 440.6L191.2 443.0M188.9 446.9L190.5 449.2M188.9 456.2L191.2 452.3M197.5 433.6L195.2 439.8M194.4 440.6L194.8 448.4M194.7 440.6C195.9 440.4 201.0 438.2 202.2 439.4C203.4 440.5 201.9 446.3 201.9 447.7M195.2 444.5L201.4 443.8M195.2 448.4L202.2 447.7M193.6 450.8L203.8 450.0M197.5 450.8C197.4 452.1 197.2 456.9 196.7 458.6C196.2 460.3 194.8 460.5 194.4 460.9M199.1 453.9C199.6 453.8 201.8 452.1 202.2 453.1C202.6 454.2 201.5 459.0 201.4 460.2M206.1 439.8L203.8 446.9M204.5 444.5L211.6 443.8M210.0 444.5C209.6 446.1 208.7 451.3 207.7 453.9C206.6 456.5 204.4 459.1 203.8 460.2M205.3 450.0L212.3 460.2M213.1 440.6L215.5 443.0M212.3 446.9L214.7 448.4M211.6 458.6L214.7 453.1M223.3 438.3L217.8 442.2M216.2 446.1L227.2 444.5M221.7 442.2L221.7 450.8M217.0 451.6C217.2 452.7 216.5 457.6 217.8 458.6C219.1 459.6 223.5 459.1 224.8 457.8C226.1 456.5 226.9 451.8 225.6 450.8C224.3 449.7 218.5 451.4 217.0 451.6M230.3 438.3L226.4 448.4M228.8 445.3L228.8 464.1M233.4 443.0L242.8 441.4M238.1 437.5L238.1 443.8M234.2 446.1L233.8 458.6M234.2 446.1C235.4 446.0 240.1 443.4 241.2 445.3C242.4 447.3 241.0 455.7 240.9 457.8M234.7 450.0L240.9 449.5M234.7 453.9L240.9 453.4M231.9 460.2L244.4 458.6M248.3 439.8L245.9 446.1M245.2 446.9L245.6 460.2M245.5 446.9C246.6 446.7 251.1 444.0 252.2 446.1C253.3 448.2 251.9 457.2 251.9 459.4M245.9 453.1L251.9 452.5M245.9 460.2L252.2 459.4M258.4 437.5L255.3 445.3M255.6 444.5C256.6 444.4 260.7 441.4 261.6 443.8C262.4 446.1 261.3 455.6 260.8 458.6C260.3 461.6 258.8 461.2 258.4 461.7M257.7 450.0L258.8 453.1M263.1 438.3L265.5 440.6M262.3 445.3C262.9 445.2 264.9 442.7 265.5 444.5C266.0 446.4 265.1 454.7 265.5 456.2C265.9 457.8 267.4 454.3 267.8 453.9M267.8 448.4L274.1 447.7M270.9 439.1L271.2 460.9M275.6 433.6L273.3 438.3M274.1 435.9L278.0 435.6M281.9 432.0L279.5 437.5M280.3 435.2L283.4 434.7M274.8 440.6L274.5 452.3M274.8 440.6C276.0 440.5 280.8 438.0 281.9 439.8C283.0 441.7 281.6 449.6 281.6 451.6M275.2 444.5L281.6 444.1M275.2 448.4L281.6 448.0M272.5 455.5L283.4 453.9M276.4 453.1L274.8 462.5M280.3 452.8L280.6 464.1M199.1 465.6L201.4 468.0M197.5 471.9C198.2 471.7 200.9 469.9 201.4 471.1C201.9 472.3 200.8 477.6 200.6 478.9M196.7 482.0C197.6 481.6 199.2 479.6 202.2 479.7C205.2 479.8 212.6 482.3 214.7 482.8M204.5 464.1C205.8 463.9 211.7 462.8 212.3 463.3C213.0 463.8 209.1 466.5 208.4 467.2M205.3 468.8L205.0 478.9M205.3 468.8C206.6 468.5 211.9 465.8 213.1 467.5C214.4 469.2 213.1 476.9 212.8 478.9C212.6 480.9 211.8 479.6 211.6 479.7M205.6 472.7L212.8 471.9M205.6 475.8L212.8 475.3M209.2 468.8L209.2 478.9M218.6 465.6C218.5 467.7 218.3 475.0 217.8 478.1C217.3 481.2 215.9 483.3 215.5 484.4M218.6 465.6C220.5 465.4 228.4 461.2 230.3 464.1C232.2 466.9 230.4 479.4 230.0 482.8C229.6 486.2 228.3 484.1 228.0 484.4M218.6 471.1L230.0 470.0M218.3 476.6L230.0 475.3M224.4 465.3L224.1 482.8M233.4 470.3L247.5 468.0M235.0 475.0L242.8 473.8M238.9 474.2L238.4 481.2M234.2 483.1L244.4 480.0M244.4 462.5C244.8 464.6 245.5 471.6 246.7 475.0C247.9 478.4 250.1 481.9 251.4 482.8C252.7 483.7 254.0 480.9 254.5 480.5M249.8 464.1L252.2 466.4M262.3 471.9L267.0 471.1M261.6 475.8L265.5 477.3" stroke="#d31616" stroke-width="2.35"/>
<path class="hw" d="M128.2 509.4C128.3 510.0 128.4 512.9 128.9 513.5C129.3 514.0 130.6 513.5 130.9 512.8C131.2 512.1 130.7 509.9 130.7 509.4M133.4 508.7L133.7 512.8M148.0 515.5C147.1 515.3 144.2 513.3 142.6 514.1C141.0 514.9 138.8 518.6 138.5 520.3C138.1 522.0 139.3 524.1 140.5 524.4C141.8 524.7 144.7 523.8 146.0 522.3C147.2 520.9 147.6 515.5 148.0 515.5C148.5 515.5 148.3 520.9 148.7 522.3C149.2 523.8 150.4 524.1 150.8 524.4M161.7 515.5C160.8 515.5 157.8 514.7 156.2 515.5C154.6 516.3 152.2 519.0 152.1 520.3C152.0 521.5 154.1 522.8 155.5 523.0C157.0 523.3 160.1 521.9 161.0 521.7M168.5 506.6C168.4 509.2 167.6 519.5 167.9 522.3C168.1 525.2 169.6 523.5 169.9 523.7M163.8 515.5L174.0 513.5M176.7 515.5L176.7 522.3M176.7 510.0L176.9 510.4M180.8 514.1C181.4 515.5 182.8 522.5 184.3 522.3C185.7 522.2 188.8 514.9 189.7 513.5M201.4 515.5C200.6 515.3 197.9 513.6 196.6 514.1C195.2 514.7 193.3 517.7 193.1 518.9C193.0 520.2 194.6 521.5 195.9 521.7C197.1 521.8 199.6 520.7 200.7 519.6C201.7 518.5 201.7 514.7 202.0 514.8C202.4 514.9 202.3 519.2 202.7 520.3C203.2 521.4 204.4 521.4 204.8 521.7M210.9 506.6L210.2 521.7M206.8 514.1L217.1 512.8M218.4 514.1L218.7 521.0M221.9 508.0L222.0 508.4M228.0 514.1C227.4 514.6 224.9 515.6 224.6 516.9C224.3 518.1 224.8 521.0 226.0 521.7C227.1 522.3 230.3 521.9 231.4 521.0C232.6 520.1 233.4 517.3 232.8 516.2C232.2 515.1 228.8 514.5 228.0 514.1M236.2 514.1L236.9 521.7M236.9 516.9C237.7 516.4 240.2 514.4 241.7 514.1C243.2 513.9 245.0 514.1 245.8 515.5C246.6 516.9 246.1 521.4 246.5 522.3C246.8 523.3 247.6 521.2 247.8 521.0" stroke="#2b8ad8" stroke-width="2.5"/>
<path class="hw" d="M268.5 507.3C267.8 507.1 265.4 505.5 264.4 505.9C263.3 506.4 262.5 507.2 262.3 510.0C262.1 512.9 262.9 520.9 263.0 523.0M257.5 516.2L268.5 514.8M271.9 515.5C272.0 516.6 271.8 521.1 272.6 522.3C273.4 523.6 275.5 524.2 276.7 523.0C277.8 521.9 278.8 515.5 279.4 515.5C280.0 515.5 280.0 521.8 280.1 523.0M284.2 515.5L284.9 523.0M284.9 517.6C285.5 517.1 287.7 514.9 289.0 514.8C290.2 514.7 291.7 515.5 292.4 516.9C293.1 518.2 293.0 522.0 293.1 523.0M304.0 515.5C303.2 515.5 300.5 514.8 299.2 515.5C298.0 516.2 296.5 518.4 296.5 519.6C296.5 520.9 297.9 522.7 299.2 523.0C300.6 523.4 303.8 521.9 304.7 521.7M310.8 507.3L310.8 523.0M306.7 515.5L315.6 514.1M318.4 515.5L318.6 523.0M322.5 508.0L322.6 508.4M328.6 515.5C328.0 516.0 325.5 517.1 325.2 518.2C324.9 519.4 325.4 521.8 326.6 522.3C327.7 522.9 330.9 522.6 332.0 521.7C333.2 520.7 334.0 517.9 333.4 516.9C332.8 515.9 329.4 515.7 328.6 515.5M336.8 515.5L337.5 523.0M337.5 517.6C338.2 517.1 340.2 515.1 341.6 514.8C343.0 514.6 344.9 514.8 345.7 516.2C346.5 517.6 346.3 521.9 346.4 523.0M358.0 508.7L355.3 513.5M366.2 507.3L362.8 514.1" stroke="#2b8ad8" stroke-width="2.5"/>
<path class="hw" d="M141.2 532.6L143.9 534.6M143.2 539.4L145.3 540.8M144.6 547.6L146.7 543.5M154.9 527.8L152.1 531.9M152.8 531.9C154.2 531.7 159.8 529.6 161.0 530.5C162.3 531.5 161.6 536.1 160.3 537.4C159.1 538.6 154.8 539.0 153.5 538.1C152.2 537.2 152.9 532.9 152.8 531.9M153.5 534.6L160.3 534.0M150.8 539.4L161.7 538.5M156.2 538.8L154.9 547.6M157.6 542.2C158.2 542.1 160.7 540.6 161.0 541.5C161.4 542.4 159.9 546.6 159.6 547.6M166.5 527.1L163.1 536.0M163.8 533.3L172.0 531.9M170.6 532.6C169.9 534.3 168.0 540.3 166.5 542.9C165.0 545.4 162.5 546.8 161.7 547.6M165.1 538.8L174.0 549.7M179.5 529.9L182.2 532.6M178.1 536.7L180.8 538.1M178.8 546.3L181.5 540.8M194.5 527.8L185.6 532.6M184.3 536.7L197.9 534.6M191.1 531.2L191.1 540.1M185.6 541.5C185.7 542.5 184.5 546.8 186.3 547.6C188.1 548.4 194.7 547.5 196.6 546.3C198.4 545.0 199.1 540.9 197.2 540.1C195.4 539.3 187.6 541.3 185.6 541.5M207.5 529.2C209.3 529.0 217.5 527.2 218.4 527.8C219.4 528.4 213.9 531.8 213.0 532.6M205.5 534.6C205.3 536.6 202.1 544.6 204.8 546.3C207.4 548.0 218.3 547.1 221.2 544.9C224.0 542.7 221.7 535.2 221.9 533.3M213.0 532.6L213.0 543.5M208.9 536.0L210.9 538.8M208.9 542.2L211.6 539.4M215.7 535.3L217.8 538.1M217.8 541.5L215.7 538.8M229.4 528.5L231.4 531.2M237.6 527.1L234.8 531.2M228.0 534.0L238.9 532.6M233.5 526.4L233.5 538.8M232.8 534.0L227.3 540.1M234.2 534.0L238.9 538.1M232.1 540.1C231.7 541.3 228.5 545.5 229.4 547.0C230.3 548.4 236.2 548.7 237.6 549.0M236.2 540.1L230.1 549.7M227.3 543.5L239.6 542.2M245.8 525.8L242.4 534.6M243.1 532.6L251.9 531.2M250.6 531.9C249.8 533.7 247.5 540.0 245.8 542.9C244.1 545.7 241.2 548.0 240.3 549.0M243.7 537.4C244.6 538.3 247.0 540.9 249.2 542.9C251.4 544.8 255.5 548.0 256.7 549.0" stroke="#1a70e2" stroke-width="2.8"/>
<path class="hw" d="M317.9 442.9C316.6 442.7 312.7 440.7 310.4 442.0C308.0 443.2 304.4 447.7 303.8 450.4C303.2 453.1 304.9 457.0 306.6 457.9C308.3 458.9 312.1 458.5 314.1 456.0C316.1 453.5 317.6 443.2 318.4 442.9C319.3 442.6 318.5 451.7 319.2 454.2C319.9 456.7 322.0 457.3 322.6 457.9M330.1 429.7L325.4 430.7L327.3 446.7L331.0 446.1M334.2 442.9C334.9 441.6 338.0 437.6 338.5 435.4C339.1 433.2 338.2 430.2 337.6 429.7C337.0 429.3 335.1 430.4 334.8 432.6C334.5 434.8 334.9 441.3 335.7 442.9C336.5 444.5 338.8 442.1 339.5 442.0M341.3 428.8L346.0 428.8L347.0 444.8L342.3 445.3M349.8 450.4L362.9 448.5M350.7 457.9L364.8 458.9M384.5 446.7C383.5 446.5 379.7 444.6 378.0 445.7C376.3 446.8 374.1 451.2 374.2 453.2C374.4 455.3 377.2 458.2 378.9 457.9C380.6 457.6 383.5 453.2 384.5 451.3C385.6 449.5 385.3 445.4 385.5 446.7C385.6 447.9 386.0 455.4 385.5 458.9C385.0 462.3 384.5 465.7 382.7 467.3C380.8 468.9 375.6 468.1 374.2 468.3M401.5 439.1C400.5 440.9 396.8 445.9 395.8 449.5C394.9 453.1 395.2 457.6 395.8 460.7C396.4 463.9 398.9 467.0 399.6 468.3M431.5 429.7L427.4 430.7L428.7 446.7L432.4 446.1M436.2 442.0C436.8 440.9 439.4 437.4 440.0 435.4C440.5 433.3 439.9 430.2 439.4 429.7C438.9 429.3 437.5 430.5 437.1 432.6C436.8 434.6 436.9 440.5 437.5 442.0C438.1 443.4 440.3 441.2 440.9 441.0M441.8 428.4L446.2 428.4L446.9 444.8L442.8 445.3" stroke="#1e1e1e" stroke-width="2.5"/>
<path class="hw" d="M326.7 451.3L326.9 451.9M327.3 455.1C327.4 456.8 328.5 463.1 327.8 465.4C327.2 467.8 325.0 468.9 323.5 469.2C322.0 469.5 319.6 467.6 318.8 467.3M426.8 453.2L427.0 453.8M427.4 457.0C427.4 458.9 428.5 465.7 427.7 468.3C427.0 470.8 424.5 471.9 423.1 472.0C421.6 472.2 419.9 469.7 419.3 469.2" stroke="#6a3da8" stroke-width="2.1"/>
<path class="hw" d="M403.3 449.5C403.6 450.6 404.3 455.7 405.2 456.0C406.1 456.4 407.7 451.3 409.0 451.3C410.2 451.4 411.3 457.2 412.7 456.6C414.1 456.0 416.6 449.1 417.4 447.6M402.4 442.9L416.5 440.1M412.7 437.3L417.4 440.1L413.7 443.8" stroke="#2f9be0" stroke-width="2.5"/>
<path class="hw" d="M454.0 450.0L454.8 450.8M476.0 446.7C474.9 446.5 471.1 444.8 469.4 445.7C467.7 446.7 465.8 450.3 465.7 452.3C465.5 454.3 466.9 457.5 468.5 457.9C470.0 458.4 473.6 457.0 475.1 455.1C476.5 453.2 476.6 446.7 476.9 446.7C477.3 446.7 476.7 453.2 477.3 455.1C477.9 457.0 479.8 457.5 480.3 457.9M463.8 440.1L476.9 440.1M473.2 436.7L477.3 440.1L473.5 442.9M487.3 428.8L482.6 429.2L483.5 446.7L487.8 446.1M490.1 443.8C490.8 442.6 493.6 438.5 494.2 436.3C494.8 434.1 494.0 431.2 493.5 430.7C493.0 430.2 491.5 431.5 491.2 433.5C491.0 435.5 491.3 441.5 492.0 442.9C492.6 444.3 494.8 442.1 495.3 442.0M498.5 439.1L504.2 438.6M507.9 434.4C508.5 434.0 510.6 429.8 511.1 431.6C511.6 433.4 511.1 443.1 511.1 445.3M508.5 445.7L514.1 445.3M516.4 427.9L521.1 428.4L521.6 445.7L517.3 446.7M535.2 449.5L548.3 449.5M541.7 442.9L542.3 457.9M579.3 428.8L575.5 429.7L576.5 445.7L580.6 445.3M584.0 442.9C584.7 441.6 587.5 437.6 588.1 435.4C588.8 433.2 588.2 430.2 587.7 429.7C587.3 429.3 585.8 430.5 585.5 432.6C585.2 434.6 585.2 440.5 585.9 442.0C586.5 443.4 588.7 441.2 589.3 441.0M591.1 426.9L595.3 427.3L596.2 444.8L591.9 445.3M600.9 433.5C602.2 435.5 607.2 441.2 608.4 445.7C609.7 450.3 609.8 456.4 608.4 460.7C607.0 465.1 601.4 470.1 600.0 472.0" stroke="#1e1e1e" stroke-width="2.5"/>
<path class="hw" d="M453.6 449.8L455.1 451.0" stroke="#1e1e1e" stroke-width="5.2"/>
<path class="hw" d="M562.4 434.4C561.9 437.9 559.1 451.5 559.6 455.1C560.0 458.7 563.6 456.7 565.2 456.0C566.8 455.4 568.8 452.9 569.0 451.3C569.1 449.8 567.6 446.8 566.1 446.7C564.7 446.5 561.5 449.8 560.5 450.4" stroke="#2f9be0" stroke-width="2.5"/>
<path class="hw" d="M576.5 452.3L576.7 452.9M576.5 457.0C576.3 459.0 576.5 466.5 575.5 469.2C574.6 471.9 572.3 472.8 570.8 472.9C569.4 473.1 567.7 470.6 567.1 470.1" stroke="#6a3da8" stroke-width="2.1"/>
<path class="hw" d="M241.1 410.8C241.4 410.1 241.2 407.8 242.9 406.7C244.6 405.6 247.4 404.9 251.1 404.3C254.8 403.8 259.9 403.8 265.2 403.2C270.4 402.5 276.9 401.0 282.7 400.2C288.6 399.5 295.6 398.8 300.3 398.5C305.0 398.2 308.5 398.2 310.9 398.5C313.2 398.8 314.0 398.8 314.4 400.2C314.8 401.7 313.4 406.1 313.2 407.3M307.3 402.6L312.6 407.9L316.7 399.1" stroke="#2a2a2a" stroke-width="2.1"/>
<path class="hw" d="M630.0 399.3C618.0 399.3 580.4 399.3 557.7 399.3C535.0 399.4 506.7 399.4 493.8 399.7C481.0 400.0 483.6 400.0 480.7 401.0C477.8 402.0 477.5 403.9 476.6 405.9C475.6 407.9 475.3 411.7 475.1 412.8M461.9 406.3L475.1 412.8L500.4 409.1" stroke="#2a2a2a" stroke-width="2.0"/>
<path class="hw" d="M618.0 399.3L687.5 399.6" stroke="#2a2a2a" stroke-width="2.0"/>
<path class="hw" d="M373.9 502.8C374.6 501.9 377.3 500.3 378.1 497.3C378.9 494.3 378.8 486.8 378.9 484.7M373.9 490.3L378.9 483.9L387.8 491.7M426.8 487.5C427.0 493.1 427.0 514.8 428.2 520.9C429.3 527.1 421.9 523.8 433.8 524.5C445.6 525.3 474.3 525.9 499.2 525.7C524.0 525.4 561.3 523.7 582.7 522.9C604.0 522.1 619.8 521.2 627.2 520.9M414.3 502.8C416.4 500.1 422.4 488.8 426.8 486.7C431.2 484.6 436.8 489.0 440.7 490.3C444.7 491.6 448.8 493.8 450.5 494.5M571.5 487.5C572.0 490.5 571.5 501.0 574.3 505.6C577.1 510.3 582.2 513.0 588.2 515.4C594.3 517.7 604.0 518.9 610.5 519.5C617.0 520.1 623.7 519.7 627.2 519.0C630.7 518.3 630.7 516.0 631.4 515.4M561.8 495.0C563.2 493.6 568.3 486.6 570.1 486.7C572.0 486.8 572.5 494.3 572.9 495.9" stroke="#2a2a2a" stroke-width="2.1"/>
<path class="hw" d="M710.3 425.7L712.3 429.1M716.4 425.0L714.4 429.1M707.5 431.9L719.8 430.5M708.9 434.6L708.2 444.2M709.3 434.6C710.4 434.5 714.7 432.6 715.7 433.9C716.7 435.3 715.4 441.3 715.3 442.8M709.8 438.0L715.0 437.6M709.8 441.2L715.0 440.8M718.5 433.9L718.2 442.1M721.9 431.9C722.0 434.4 722.8 444.1 722.6 446.9C722.3 449.8 720.9 448.6 720.5 449.0M728.0 432.6C728.5 432.2 729.9 430.4 730.8 430.5C731.7 430.6 733.0 432.8 733.5 433.2M736.9 426.4C738.7 426.2 746.1 424.1 747.9 425.0C749.6 426.0 748.8 430.5 747.2 431.9C745.6 433.2 739.8 433.0 738.3 433.2M736.9 426.4C737.1 428.2 738.5 433.7 738.3 437.3C738.1 441.0 736.0 446.5 735.5 448.3M740.3 436.0L747.2 435.3M739.6 439.4L748.5 438.0M743.8 439.4C743.3 440.3 740.4 444.1 741.0 444.9C741.6 445.7 746.1 444.3 747.2 444.2M746.5 442.8L748.5 447.6M756.7 425.0L754.0 430.5M752.6 431.2L753.3 443.5M753.0 431.2C754.1 431.0 758.5 428.3 759.5 430.2C760.5 432.2 759.1 440.7 759.1 442.8M753.6 437.3L759.1 436.8M753.6 443.5L759.5 442.8M767.0 423.0L763.6 430.5M764.3 429.8C765.4 429.6 770.2 426.3 771.1 428.5C772.0 430.6 770.4 439.7 769.7 442.8C769.0 445.9 767.5 446.2 767.0 446.9M766.3 435.3L767.7 438.7M777.9 427.8L786.1 425.7M782.0 421.6C781.5 423.4 777.7 431.1 778.6 432.6C779.5 434.0 786.0 430.9 787.5 430.5M782.7 426.4L782.7 446.9M776.6 437.3L788.9 435.3M795.7 419.6L788.9 429.1M795.7 420.3L799.8 426.4M791.6 430.5L797.8 429.8M789.6 433.9L788.9 446.9M790.2 433.9C790.9 433.9 793.7 431.6 794.3 433.5C795.0 435.5 794.1 443.5 794.1 445.5M790.9 439.4L794.1 439.1M797.8 433.9L797.8 445.5M801.2 432.6L801.4 447.6M815.5 419.6L816.2 445.5M810.7 425.0C810.9 426.4 809.7 432.1 811.4 433.2C813.1 434.4 819.3 433.5 821.0 431.9C822.7 430.3 821.3 425.0 821.4 423.7M808.7 437.3C808.8 438.9 806.9 445.7 809.4 446.9C811.9 448.2 821.5 446.9 823.7 444.9C826.0 442.8 823.2 436.3 823.1 434.6M823.7 444.9L824.4 450.3" stroke="#d31616" stroke-width="2.8"/>
<path class="hw" d="M655.0 525.8L657.5 528.2M659.1 524.6L659.3 528.2M662.9 524.9L660.8 528.2M654.1 531.6C655.5 531.3 661.1 529.3 662.4 530.2C663.8 531.2 662.2 536.2 662.1 537.4M656.6 534.5L661.6 533.9M654.1 537.4C654.8 537.2 656.8 536.3 658.3 536.2C659.7 536.1 662.2 536.5 662.9 536.5M668.2 523.3L669.9 526.6M674.9 521.6L672.9 526.2M665.8 529.9L680.7 527.9M668.2 533.2L667.4 544.0M668.6 533.2C669.6 533.1 673.9 530.9 674.9 532.4C675.8 533.9 674.5 540.7 674.4 542.4M669.1 537.4L674.5 536.9M677.4 532.4L677.4 540.7M679.9 529.1L680.2 544.8M684.0 529.1C685.9 528.8 693.8 526.6 695.6 527.4C697.4 528.2 696.6 532.7 694.8 534.1C693.0 535.4 686.5 535.4 684.8 535.7M684.0 529.1C684.1 531.1 685.0 538.1 684.8 541.5C684.7 545.0 683.5 548.4 683.2 549.8M687.3 539.0L695.6 537.9M686.5 542.8L697.3 541.2M691.5 542.8C691.1 543.7 688.3 547.1 689.0 547.8C689.7 548.6 694.5 547.4 695.6 547.3M694.8 545.7L697.3 549.8M705.6 526.6L703.1 532.4M701.4 533.2L702.3 547.3M701.9 533.2C703.1 533.0 707.8 529.8 708.9 532.1C710.0 534.3 708.5 544.1 708.4 546.5M702.4 539.9L708.6 539.2M702.4 547.3L708.9 546.5M716.4 524.1L713.1 532.4M713.4 531.6C714.4 531.3 718.8 527.7 719.7 530.2C720.6 532.7 719.4 543.4 718.9 546.5C718.3 549.6 716.8 548.6 716.4 549.0M715.6 537.4L716.7 540.7M748.8 525.8L742.9 529.9M742.1 534.1L752.9 532.4M747.9 528.2L747.9 549.8M747.6 534.9L742.1 542.4M748.8 534.9L752.9 539.0M754.6 532.4C754.6 533.9 753.8 540.1 754.9 541.5C756.0 542.9 760.2 542.4 761.2 540.7C762.2 539.0 762.0 532.9 760.9 531.6C759.8 530.2 755.6 532.3 754.6 532.4M763.7 524.9C763.6 528.0 762.5 540.0 763.2 543.2C763.9 546.4 766.5 544.6 767.8 544.0C769.2 543.5 771.2 541.1 771.2 539.9C771.2 538.6 769.1 536.7 767.8 536.5C766.6 536.4 764.4 538.6 763.7 539.0M782.0 523.3L777.8 533.2M780.3 529.9L780.3 551.5M784.4 529.1L794.4 527.4M789.1 524.1L789.1 529.9M785.3 532.4L784.8 545.7M785.3 532.4C786.4 532.3 790.9 529.5 791.9 531.6C793.0 533.6 791.6 542.6 791.6 544.8M785.6 536.5L791.6 536.0M785.6 540.7L791.6 540.2M782.8 547.8L795.2 546.5M804.4 546.5L802.7 549.8" stroke="#d31616" stroke-width="2.6"/>
<path class="hw" d="M726.3 526.6L728.0 544.8L732.2 531.6L735.5 544.8L739.6 525.8" stroke="#d31616" stroke-width="3.6"/>
</g>
</svg>
</body>
</html>
